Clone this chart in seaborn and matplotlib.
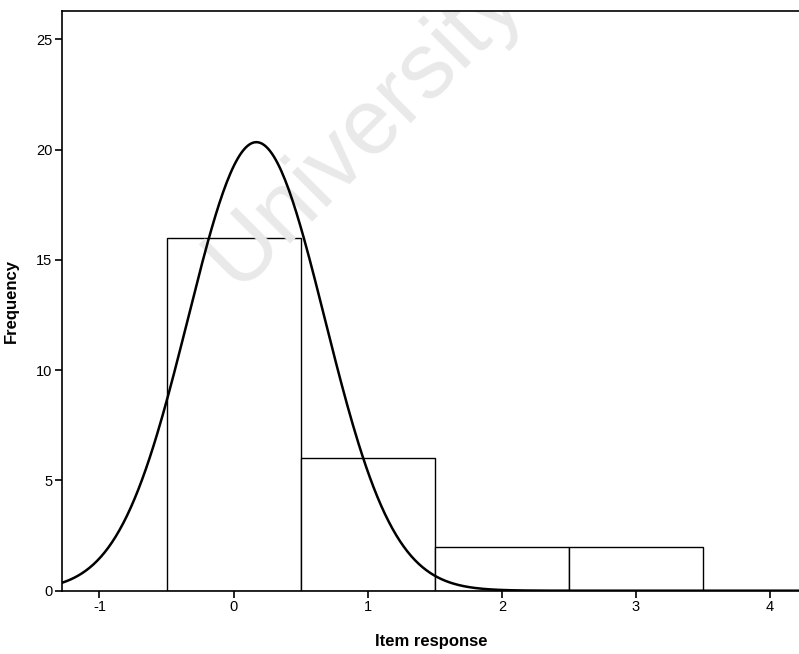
import numpy as np
import pandas as pd
import matplotlib
matplotlib.use("Agg")
import matplotlib.pyplot as plt
import seaborn as sns

# Data
responses = [0, 1, 2, 3]
frequencies = [16, 6, 2, 2]
x_ticks = [-1, 0, 1, 2, 3, 4]
y_ticks = [0, 5, 10, 15, 20, 25]
# Normal curve parameters (fitted overlay as drawn)
curve_mean = 0.17
curve_sd = 0.51
curve_n = 26

sns.set_style("white")
plt.rcParams['font.family'] = ['Liberation Sans', 'DejaVu Sans']
plt.rcParams['axes.unicode_minus'] = False
plt.rcParams['text.color'] = 'black'
plt.rcParams['axes.labelcolor'] = 'black'
plt.rcParams['xtick.color'] = 'black'
plt.rcParams['ytick.color'] = 'black'

fig = plt.figure(figsize=(7.99, 6.54), dpi=100)
ax = fig.add_axes([0.0776, 0.0968, 0.9244, 0.8862])

df = pd.DataFrame({"response": responses, "freq": frequencies})
sns.histplot(data=df, x="response", weights="freq", discrete=True,
             color="white", edgecolor="black", linewidth=1.0, alpha=1.0, ax=ax)

ax.text(0.98, 20.95, "University", rotation=45, fontsize=67, color="#e9e9e9",
        ha="center", va="center", rotation_mode="anchor", zorder=1.5, clip_on=True)

xs = np.linspace(-1.3, 4.3, 400)
ys = curve_n * 1.0 / (curve_sd * np.sqrt(2 * np.pi)) * np.exp(-(xs - curve_mean) ** 2 / (2 * curve_sd ** 2))
sns.lineplot(x=xs, y=ys, color="black", linewidth=1.8, ax=ax, zorder=3)

ax.set_xlim(-1.279, 4.227)
ax.set_ylim(0, 26.28)
ax.set_xticks(x_ticks)
ax.set_yticks(y_ticks)
ax.tick_params(direction="out", length=5, width=1.2, labelsize=10.5, color="black",
               labelcolor="black", pad=2, bottom=True, left=True)
for s in ["left", "bottom", "top"]:
    ax.spines[s].set_color("black")
    ax.spines[s].set_linewidth(1.2)
ax.spines["right"].set_visible(False)
ax.set_xlabel("Item response", fontsize=12, fontweight="bold", labelpad=14)
ax.set_ylabel("Frequency", fontsize=12, fontweight="bold", labelpad=12)

fig.savefig("out.png", dpi=100)
